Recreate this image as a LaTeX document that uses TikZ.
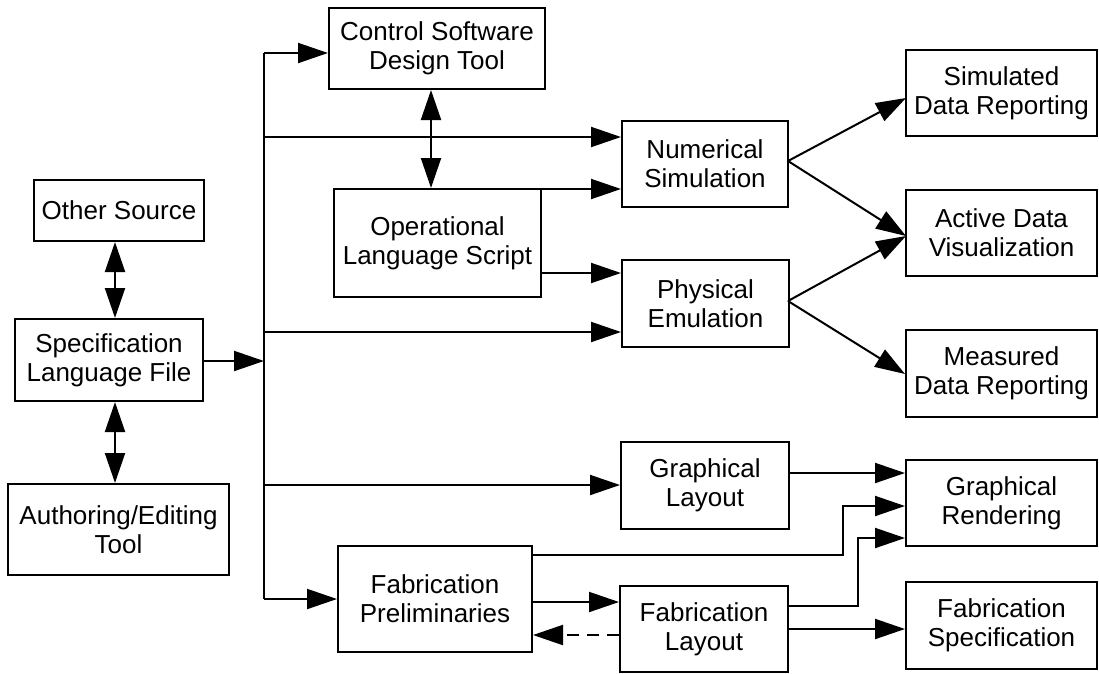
\documentclass[tikz,border=0pt]{standalone}
\usepackage{fontspec}
\setmainfont{Liberation Sans}
\usetikzlibrary{arrows.meta}
\begin{document}
\begin{tikzpicture}[x=1pt,y=-1pt,
  box/.style={draw,line width=2pt,inner sep=0pt,align=center,font=\fontsize{26}{29}\selectfont},
  conn/.style={line width=2pt},
  arr/.style={conn,-{Triangle[length=30pt,width=20pt]}},
  darr/.style={conn,{Triangle[length=30pt,width=20pt]}-{Triangle[length=30pt,width=20pt]}}]
\useasboundingbox (0,0) rectangle (1099,673);
% boxes
\node[box,minimum width=170pt,minimum height=61pt] (other) at (119,210.5) {Other Source};
\node[box,minimum width=188pt,minimum height=82pt] (spec) at (109,360) {Specification\\Language File};
\node[box,minimum width=221pt,minimum height=91pt] (auth) at (118.5,529.5) {Authoring/Editing\\Tool};
\node[box,minimum width=216pt,minimum height=81pt] (csdt) at (437,48.5) {Control Software\\Design Tool};
\node[box,minimum width=207pt,minimum height=108pt] (ols) at (437.5,243) {Operational\\Language Script};
\node[box,minimum width=166pt,minimum height=86pt] (num) at (705,164) {Numerical\\Simulation};
\node[box,minimum width=167pt,minimum height=87pt] (phys) at (705.5,303.5) {Physical\\Emulation};
\node[box,minimum width=191pt,minimum height=86pt] (sdr) at (1001.5,93) {Simulated\\Data Reporting};
\node[box,minimum width=191pt,minimum height=86pt] (adv) at (1001.5,233) {Active Data\\Visualization};
\node[box,minimum width=191pt,minimum height=87pt] (mdr) at (1001.5,373.5) {Measured\\Data Reporting};
\node[box,minimum width=168pt,minimum height=87pt] (gl) at (705,485.5) {Graphical\\Layout};
\node[box,minimum width=191pt,minimum height=86pt] (gr) at (1001.5,503) {Graphical\\Rendering};
\node[box,minimum width=194pt,minimum height=106pt] (fp) at (435,599) {Fabrication\\Preliminaries};
\node[box,minimum width=168pt,minimum height=86pt] (fl) at (704,629) {Fabrication\\Layout};
\node[box,minimum width=191pt,minimum height=87pt] (fs) at (1001.5,625.5) {Fabrication\\Specification};
% trunk coordinates
\coordinate (tTop) at (264,53);
\coordinate (tNum) at (264,137);
\coordinate (tSpec) at (264,361);
\coordinate (tPhys) at (264,332);
\coordinate (tGl) at (264,485);
\coordinate (tBot) at (264,599);
% left column
\draw[darr] (other.south -| 115,0) -- (spec.north -| 115,0);
\draw[darr] (spec.south -| 115,0) -- (auth.north -| 115,0);
\draw[arr] (spec.east |- tSpec) -- (tSpec);
% trunk
\draw[conn] (tTop) -- (tBot);
\draw[arr] (tTop) -- (tTop -| csdt.west);
\draw[arr] (tNum) -- (tNum -| num.west);
\draw[arr] (tPhys) -- (tPhys -| phys.west);
\draw[arr] (tGl) -- (tGl -| gl.west);
\draw[arr] (tBot) -- (tBot -| fp.west);
% middle
\draw[darr] (csdt.south -| 431,0) -- (ols.north -| 431,0);
\draw[arr] (ols.north east |- 0,189) -- (num.west |- 0,189);
\draw[arr] (ols.east |- 0,273) -- (phys.west |- 0,273);
% fan-outs
\coordinate (nOut) at (788,161);
\coordinate (pOut) at (788,301);
\draw[arr] (nOut) -- (906,98);
\draw[arr] (nOut) -- (906,236);
\draw[arr] (pOut) -- (906,236);
\draw[arr] (pOut) -- (905,374);
% lower right
\draw[arr] (gl.east |- 0,473) -- (gr.west |- 0,473);
\draw[arr] (fp.east |- 0,555) -- (843,555) -- (843,506) -- (gr.west |- 0,506);
\draw[arr] (fl.east |- 0,606) -- (858,606) -- (858,538) -- (gr.west |- 0,538);
\draw[arr] (fl.east |- 0,629) -- (fs.west |- 0,629);
\draw[arr] (fp.east |- 0,602) -- (fl.west |- 0,602);
\draw[arr,dash pattern=on 12pt off 8pt] (fl.west |- 0,635) -- (fp.east |- 0,635);
\end{tikzpicture}
\end{document}
